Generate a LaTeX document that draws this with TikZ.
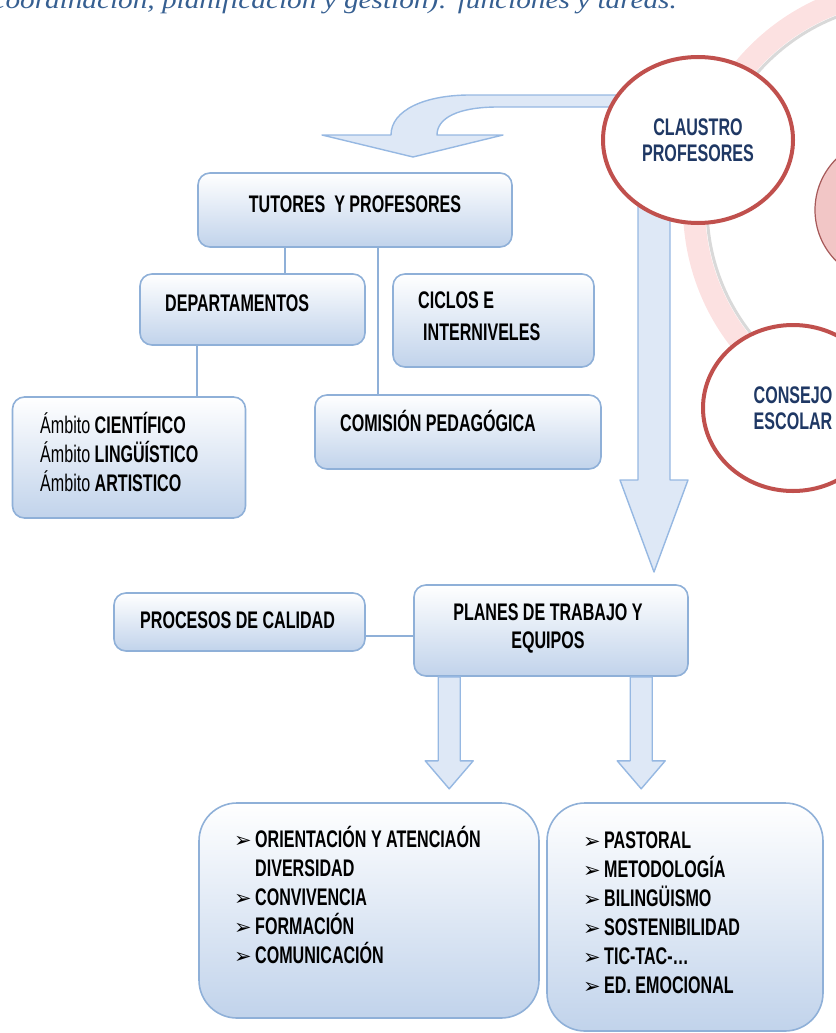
\documentclass[tikz,border=0pt]{standalone}
\usepackage{fontspec}
\newfontfamily\narrowfont[FakeStretch=0.67]{Liberation Sans}
\newfontfamily\symfont{DejaVu Sans}
\newfontfamily\titlefont[FakeStretch=1.17]{Liberation Serif}
\usetikzlibrary{shapes.geometric}
\definecolor{boxline}{RGB}{143,176,216}
\definecolor{boxfill}{RGB}{193,211,235}
\definecolor{arrowfill}{RGB}{222,232,246}
\definecolor{arrowline}{RGB}{150,184,226}
\definecolor{circred}{RGB}{192,80,77}
\definecolor{circtext}{RGB}{31,56,100}
\definecolor{ringpink}{RGB}{252,225,225}
\definecolor{centerpink}{RGB}{242,198,198}
\definecolor{titleblue}{RGB}{54,95,145}
\newcommand\vineta{\makebox[21pt][l]{\symfont\fontsize{21}{21}\selectfont ➢}}

\begin{document}
\begin{tikzpicture}[x=1pt,y=-1pt,
    caja/.style={draw=boxline,line width=1.6pt,rounded corners=12pt,
      top color=white,bottom color=boxfill,inner sep=0pt},
    cajota/.style={caja,rounded corners=38pt},
    texto/.style={inner sep=0pt,font=\narrowfont\bfseries\fontsize{24}{29}\selectfont},
    lista/.style={texto,align=left},
    conector/.style={draw=boxline,line width=1.6pt},
    flecha/.style={draw=arrowline,fill=arrowfill,line width=1.4pt,line join=round},
    organo/.style={ellipse,draw=circred,line width=4pt,fill=white,inner sep=0pt,
      text=circtext,align=center,font=\narrowfont\bfseries\fontsize{24}{26}\selectfont}]
  \useasboundingbox (0,0) rectangle (835,1033);

  % titulo recortado
  \node[anchor=base east,inner sep=0pt,text=titleblue,
    font=\titlefont\itshape\fontsize{25}{30}\selectfont] (titulo) at (677,9)
    {coordinación, planificación y gestión): funciones y tareas.};

  % anillo y circulo central
  \draw[gray!30,line width=3pt] (911,207) circle (204pt);
  \draw[ringpink,line width=22pt] (911,207) circle (217pt);
  \node[circle,draw=gray!70!red,line width=1.2pt,fill=centerpink,minimum size=144pt] (centro) at (887,210) {};

  % flechas grandes
  \draw[flecha] (640,95) -- (470,95) .. controls (425,95) and (391,110) .. (391,135)
    -- (322,135) -- (413,157) -- (503,135) -- (437,135)
    .. controls (437,118) and (458,107) .. (498,107) -- (640,107) -- cycle;
  \draw[flecha] (638,200) -- (638,480) -- (620,480) -- (654,572) -- (688,480)
    -- (670,480) -- (670,200) -- cycle;

  % organos
  \node[organo,minimum width=190pt,minimum height=166pt] (claustro) at (698,140) {CLAUSTRO\\PROFESORES};
  \node[organo,minimum width=180pt,minimum height=166pt] (consejo) at (793,408) {CONSEJO\\ESCOLAR};

  % cajas
  \node[caja,minimum width=314pt,minimum height=74pt] (tutores) at (355,210) {};
  \node[caja,minimum width=225pt,minimum height=71pt] (departamentos) at (252.5,309.5) {};
  \node[caja,minimum width=201pt,minimum height=93pt] (ciclos) at (493.5,320.5) {};
  \node[caja,minimum width=233pt,minimum height=121pt] (ambitos) at (129,457.5) {};
  \node[caja,minimum width=286pt,minimum height=74pt] (comision) at (458,432) {};
  \node[caja,minimum width=251pt,minimum height=58pt] (procesos) at (239.5,622) {};
  \node[caja,minimum width=274pt,minimum height=91pt] (planes) at (551,630.5) {};
  \node[cajota,minimum width=340pt,minimum height=215pt] (listaorient) at (369,910.5) {};
  \node[cajota,minimum width=276pt,minimum height=228pt] (listapast) at (685,917) {};

  % textos
  \node[texto,anchor=base] (tutores-t) at (355,212) {TUTORES\ \ Y PROFESORES};
  \node[texto,anchor=base west] (departamentos-t) at (165,311.5) {DEPARTAMENTOS};
  \node[lista,anchor=north west,font=\narrowfont\bfseries\fontsize{24}{32}\selectfont] (ciclos-t) at (418,291.5)
    {CICLOS E\\\hspace*{5pt}INTERNIVELES};
  \node[lista,anchor=north west] (ambitos-t) at (40,412.5)
    {{\mdseries Ámbito} CIENTÍFICO\\{\mdseries Ámbito} LINGÜÍSTICO\\{\mdseries Ámbito} ARTISTICO};
  \node[texto,anchor=base west] (comision-t) at (340,431.5) {COMISIÓN PEDAGÓGICA};
  \node[texto,anchor=base west] (procesos-t) at (140,628.5) {PROCESOS DE CALIDAD};
  \node[lista,anchor=north,align=center,font=\narrowfont\bfseries\fontsize{24}{28}\selectfont] (planes-t) at (548,603.5)
    {PLANES DE TRABAJO Y\\EQUIPOS};
  \node[lista,anchor=north west] (listaorient-t) at (234,826.5)
    {\vineta ORIENTACIÓN Y ATENCIAÓN\\
     \hspace*{21pt}DIVERSIDAD\\
     \vineta CONVIVENCIA\\
     \vineta FORMACIÓN\\
     \vineta COMUNICACIÓN};
  \node[lista,anchor=north west] (listapast-t) at (583,831.5)
    {\vineta PASTORAL\\
     \vineta METODOLOGÍA\\
     \vineta BILINGÜISMO\\
     \vineta SOSTENIBILIDAD\\
     \vineta TIC-TAC-…\\
     \vineta ED. EMOCIONAL};

  % conectores
  \draw[conector] ([xshift=88pt]tutores.south west) -- ([xshift=88pt]tutores.south west |- departamentos.north);
  \draw[conector] ([xshift=181pt]tutores.south west) -- ([xshift=181pt]tutores.south west |- comision.north);
  \draw[conector] ([xshift=58pt]departamentos.south west) -- ([xshift=58pt]departamentos.south west |- ambitos.north);
  \draw[conector] ([yshift=-14pt]procesos.east) -- ([yshift=-14pt]procesos.east -| planes.west);

  % flechas pequenas
  \draw[flecha] ([xshift=25pt]planes.south west) -- ++(0,84) -- ++(-13,0) -- ++(24,28)
    -- ++(24,-28) -- ++(-13,0) -- ++(0,-84) -- cycle;
  \draw[flecha] ([xshift=217pt]planes.south west) -- ++(0,84) -- ++(-13,0) -- ++(24,28)
    -- ++(24,-28) -- ++(-13,0) -- ++(0,-84) -- cycle;
\end{tikzpicture}
\end{document}
